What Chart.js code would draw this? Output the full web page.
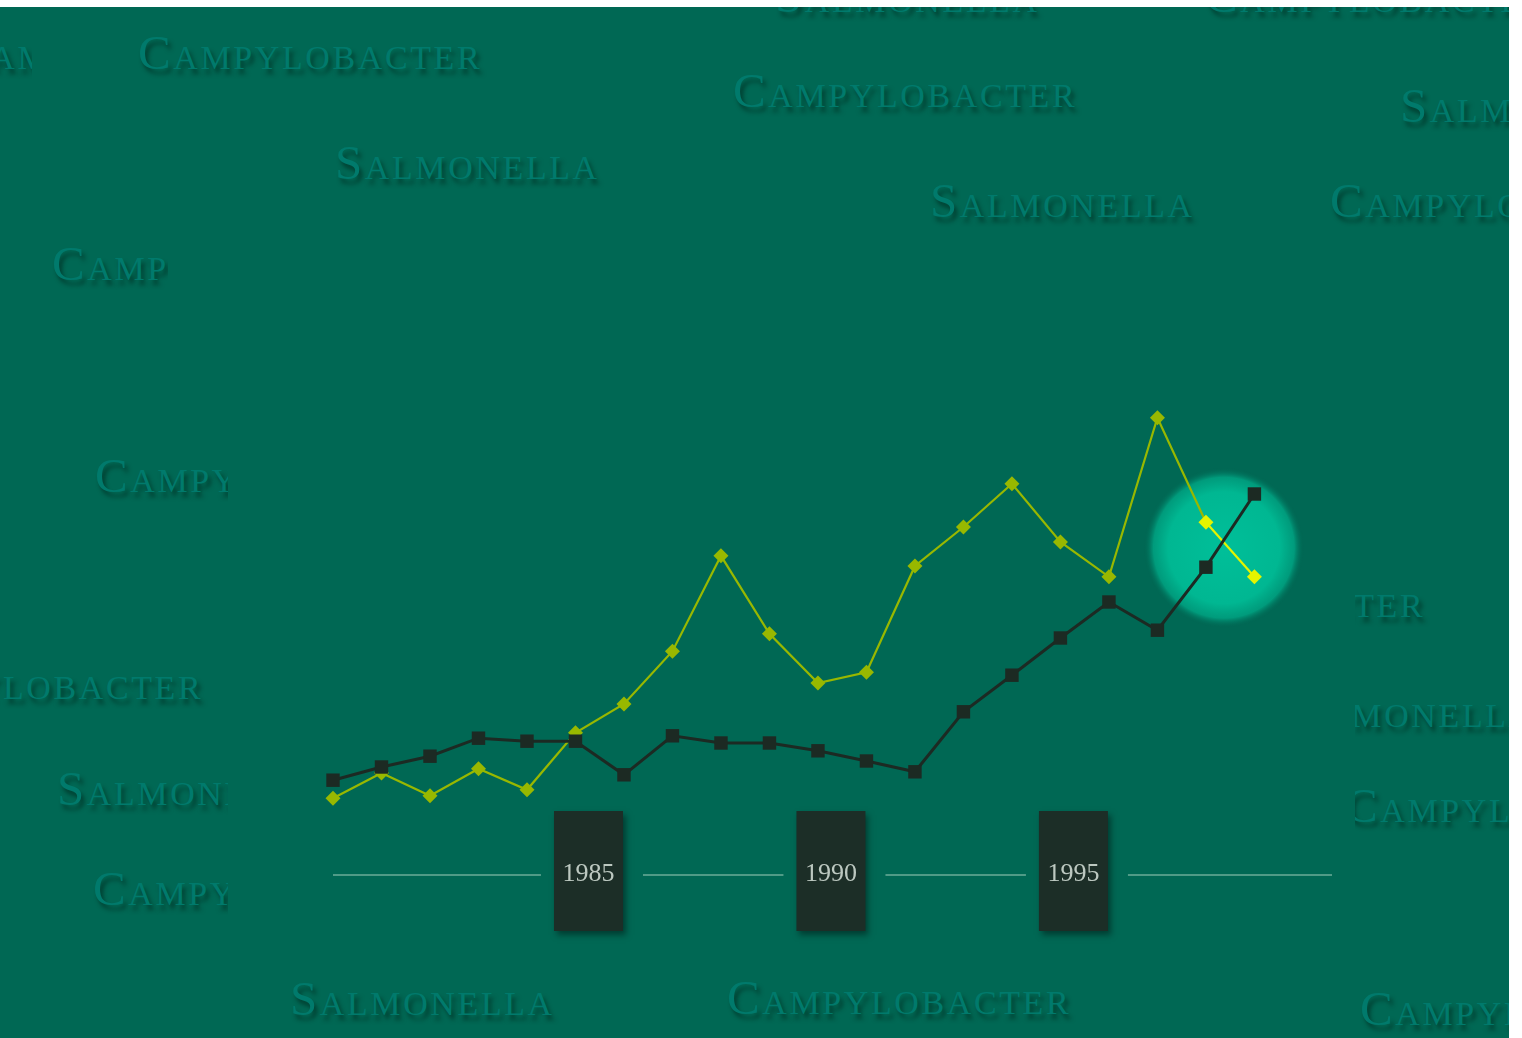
<!DOCTYPE html>
<html>
<head>
<meta charset="utf-8">
<script src="https://cdn.jsdelivr.net/npm/chart.js@4/dist/chart.umd.min.js"></script>
<style>
  html, body { margin: 0; padding: 0; background: #fff; }
  body { width: 1522px; height: 1038px; position: relative; overflow: hidden; }
  #stage { position: absolute; left: 0; top: 7px; width: 1509px; height: 1031px; background: #006854; overflow: hidden; }
  .clip { position: absolute; overflow: hidden; height: 70px; }
  .word {
    position: absolute; white-space: nowrap;
    font-family: "Liberation Serif", serif; font-size: 49px; line-height: 49px;
    font-variant: small-caps; letter-spacing: 2.6px;
    color: #007a6c;
    text-shadow: 3px 5px 4px rgba(0, 35, 25, 0.6);
  }
  #panel { position: absolute; left: 228px; top: 228px; width: 1127px; height: 725px; background: #006854; }
</style>
</head>
<body>
<div id="stage">
  <div id="words"></div>
  <div id="panel"><canvas id="chart" width="1127" height="725"></canvas></div>
</div>
<script>
// notified cases (per 100 000)
const years = [1980, 1981, 1982, 1983, 1984, 1985, 1986, 1987, 1988, 1989,
               1990, 1991, 1992, 1993, 1994, 1995, 1996, 1997, 1998, 1999];
const campylobacter = [12.8, 17.0, 13.2, 17.7, 14.2, 23.7, 28.5, 37.3, 53.2, 40.2,
                       32.0, 33.8, 51.5, 58.0, 65.2, 55.5, 49.7, 76.2, 58.8, 49.7];
const salmonella = [15.8, 18.0, 19.8, 22.8, 22.3, 22.3, 16.7, 23.2, 22.0, 22.0,
                    20.7, 19.0, 17.2, 27.2, 33.3, 39.5, 45.5, 40.8, 51.3, 63.5];
const tickYears = [1985, 1990, 1995];
const highlightFrom = 1998;

// background wallpaper words (left, top of caps, optional clip width)
const wallpaper = [
  ["Campylobacter", -45, 37, 77],
  ["Campylobacter", 138, 37],
  ["Campylobacter", 733, 75],
  ["Salmonella", 335, 147],
  ["Salmonella", 930, 185],
  ["Salmonella", 1400, 90],
  ["Campylobacter", 1330, 185],
  ["Salmonella", 775, -20],
  ["Campylobacter", 1205, -20],
  ["Campylobacter", 52, 248, 116],
  ["Campylobacter", 95, 460],
  ["Campylobacter", -141, 667],
  ["Salmonella", 57, 773],
  ["Campylobacter", 93, 873],
  ["Salmonella", 290, 983],
  ["Campylobacter", 727, 982],
  ["Campylobacter", 1081, 585],
  ["Salmonella", 1271, 695],
  ["Campylobacter", 1345, 790],
  ["Campylobacter", 1360, 993]
];

const wordsEl = document.getElementById('words');
wallpaper.forEach(w => {
  const span = document.createElement('div');
  span.className = 'word';
  span.textContent = w[0];
  const top = w[2] - 7 - 9;
  if (w[3]) {
    const clip = document.createElement('div');
    clip.className = 'clip';
    clip.style.left = w[1] + 'px';
    clip.style.top = top + 'px';
    clip.style.width = (w[3]) + 'px';
    span.style.left = '0px';
    span.style.top = '0px';
    clip.appendChild(span);
    wordsEl.appendChild(clip);
  } else {
    span.style.left = w[1] + 'px';
    span.style.top = top + 'px';
    wordsEl.appendChild(span);
  }
});

const yellow = '#98b800';
const brightYellow = '#e4f400';
const dark = '#1c2a23';

// soft glow behind the last two years
const glowPlugin = {
  id: 'glow',
  beforeDatasetsDraw(chart) {
    const x = chart.scales.x.getPixelForValue(highlightFrom + 0.37);
    const y = chart.scales.y.getPixelForValue((campylobacter[18] + salmonella[18]) / 2 - 0.5);
    const r = 80;
    const ctx = chart.ctx;
    const g = ctx.createRadialGradient(x, y, 0, x, y, r);
    g.addColorStop(0, '#00bf99');
    g.addColorStop(0.7, '#00b792');
    g.addColorStop(0.88, 'rgba(0,168,134,0.8)');
    g.addColorStop(1, 'rgba(0,104,84,0)');
    ctx.save();
    ctx.fillStyle = g;
    ctx.beginPath();
    ctx.arc(x, y, r, 0, Math.PI * 2);
    ctx.fill();
    ctx.restore();
  }
};

// time axis: a thin rule broken by dark year tabs
const yearTabs = {
  id: 'yearTabs',
  beforeDatasetsDraw(chart) {
    const ctx = chart.ctx;
    const xs = chart.scales.x;
    const axisY = chart.scales.y.getPixelForValue(0);
    const w = 69, h = 120;
    const tabs = tickYears.map(yr => xs.getPixelForValue(yr) + 13);
    ctx.save();
    ctx.strokeStyle = 'rgba(160, 205, 185, 0.5)';
    ctx.lineWidth = 2;
    let start = chart.chartArea.left;
    tabs.forEach(cx => {
      ctx.beginPath();
      ctx.moveTo(start, axisY);
      ctx.lineTo(cx - w / 2 - 13, axisY);
      ctx.stroke();
      start = cx + w / 2 + 20;
    });
    ctx.beginPath();
    ctx.moveTo(start, axisY);
    ctx.lineTo(chart.chartArea.right, axisY);
    ctx.stroke();

    tabs.forEach((cx, i) => {
      ctx.save();
      ctx.shadowColor = 'rgba(0, 20, 15, 0.5)';
      ctx.shadowBlur = 6;
      ctx.shadowOffsetX = 3;
      ctx.shadowOffsetY = 4;
      ctx.fillStyle = '#1c2e27';
      ctx.fillRect(cx - w / 2, axisY - 64, w, h);
      ctx.restore();
      ctx.fillStyle = '#bcc8c0';
      ctx.font = '26px "Liberation Serif", serif';
      ctx.textAlign = 'center';
      ctx.textBaseline = 'middle';
      ctx.fillText(String(tickYears[i]), cx, axisY - 1);
    });
    ctx.restore();
  }
};

const hi = i => years[i] >= highlightFrom;

new Chart(document.getElementById('chart'), {
  type: 'line',
  data: {
    datasets: [
      {
        label: 'Salmonella',
        data: years.map((y, i) => ({ x: y, y: salmonella[i] })),
        borderColor: dark,
        borderWidth: 3,
        pointStyle: 'rect',
        pointRadius: 9.5,
        pointBackgroundColor: dark,
        pointBorderWidth: 0,
        clip: false
      },
      {
        label: 'Campylobacter',
        data: years.map((y, i) => ({ x: y, y: campylobacter[i] })),
        borderColor: yellow,
        borderWidth: 2.2,
        pointStyle: 'rectRot',
        pointRadius: 7.5,
        pointBackgroundColor: years.map((y, i) => hi(i) ? brightYellow : yellow),
        pointBorderWidth: 0,
        segment: {
          borderColor: c => hi(c.p0DataIndex) ? brightYellow : yellow
        },
        clip: false
      }
    ]
  },
  options: {
    responsive: false,
    animation: false,
    layout: { padding: { left: 105, right: 23, top: 40, bottom: 85 } },
    plugins: { legend: { display: false }, tooltip: { enabled: false } },
    scales: {
      x: { type: 'linear', min: 1980, max: 2000.6, display: false },
      y: { min: 0, max: 100, display: false }
    }
  },
  plugins: [glowPlugin, yearTabs]
});
</script>
</body>
</html>
